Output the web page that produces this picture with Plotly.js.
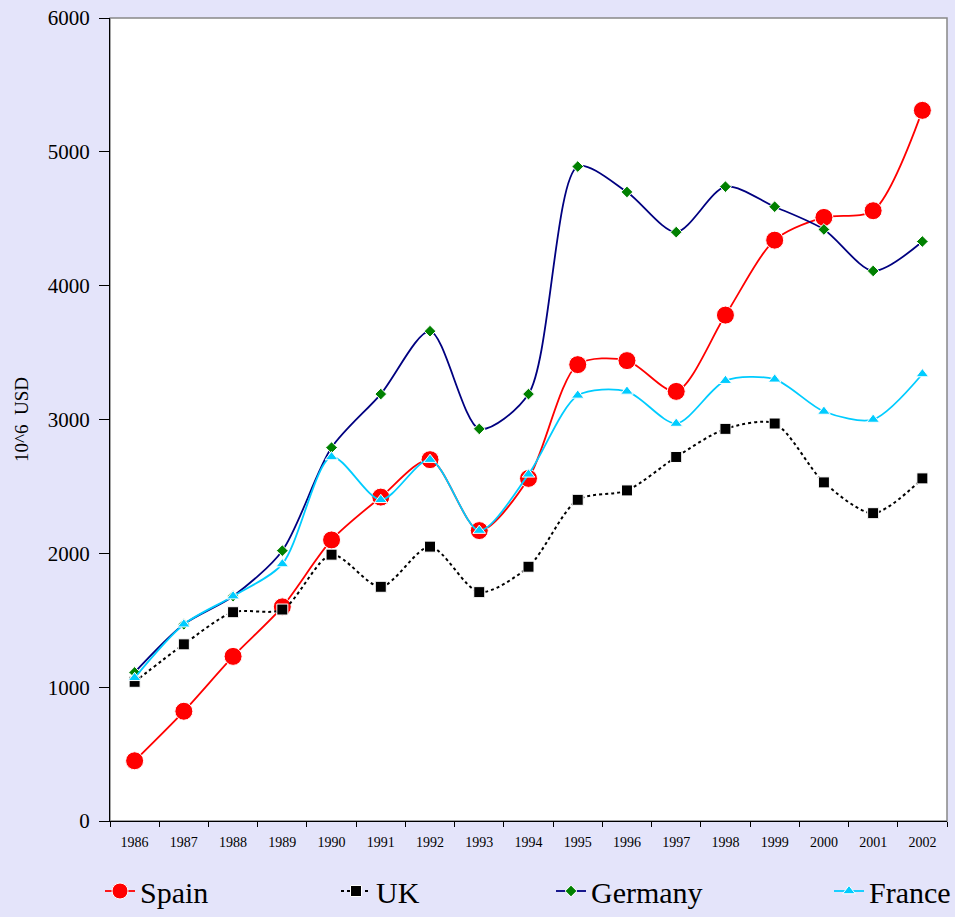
<!DOCTYPE html>
<html>
<head>
<meta charset="utf-8">
<script src="https://cdn.plot.ly/plotly-3.0.1.min.js"></script>
<style>html,body{margin:0;padding:0;background:#E4E4FA;}#chart{width:955px;height:917px;}</style>
</head>
<body>
<div id="chart"></div>
<script>
const years = ['1986','1987','1988','1989','1990','1991','1992','1993','1994','1995','1996','1997','1998','1999','2000','2001','2002'];
const spain   = [450, 820, 1230, 1600, 2100, 2420, 2700, 2170, 2560, 3410, 3440, 3210, 3780, 4340, 4510, 4560, 5310];
const uk      = [1040, 1320, 1560, 1580, 1990, 1750, 2050, 1710, 1900, 2400, 2470, 2720, 2930, 2970, 2530, 2300, 2560];
const germany = [1110, 1470, 1680, 2020, 2790, 3190, 3660, 2930, 3190, 4890, 4700, 4400, 4740, 4590, 4420, 4110, 4330];
const france  = [1070, 1470, 1680, 1920, 2720, 2400, 2700, 2170, 2590, 3180, 3210, 2970, 3290, 3300, 3060, 3000, 3340];
const yTicks = [0, 1000, 2000, 3000, 4000, 5000, 6000];

const serif = '"Liberation Serif", "Times New Roman", serif';
const traces = [
  {name:'Spain', x:years, y:spain, type:'scatter', mode:'lines+markers', legend:'legend',
   line:{color:'#FF0000', width:1.8, shape:'spline', smoothing:0.8},
   marker:{symbol:'circle', size:18, color:'#FF0000', line:{color:'#FFFFFF', width:1}}},
  {name:'UK', x:years, y:uk, type:'scatter', mode:'lines+markers', legend:'legend2',
   line:{color:'#000000', width:2, dash:'dot', shape:'spline', smoothing:0.8},
   marker:{symbol:'square', size:11, color:'#000000', line:{color:'#FFFFFF', width:1}}},
  {name:'Germany', x:years, y:germany, type:'scatter', mode:'lines+markers', legend:'legend3',
   line:{color:'#000080', width:1.8, shape:'spline', smoothing:0.8},
   marker:{symbol:'diamond', size:9, color:'#008000', line:{color:'#FFFFFF', width:1}}},
  {name:'France', x:years, y:france, type:'scatter', mode:'lines+markers', legend:'legend4',
   line:{color:'#00CCFF', width:1.8, shape:'spline', smoothing:0.8},
   marker:{symbol:'triangle-up', size:11, color:'#00CCFF', line:{color:'#FFFFFF', width:1}}}
];

function leg(px){
  return {orientation:'h', xref:'container', yref:'container', x:px/955, y:-0.005, xanchor:'left', yanchor:'bottom',
    font:{size:30, family:serif}, bgcolor:'rgba(0,0,0,0)'};
}

const n = years.length;
const bounds = Array.from({length:n+1}, (_, i) => i - 0.5);

const layout = {
  width:955, height:917,
  paper_bgcolor:'#E4E4FA', plot_bgcolor:'#FFFFFF',
  margin:{l:110, r:8, t:18, b:96},
  font:{family:serif, color:'#000000'},
  showlegend:true,
  legend:leg(100), legend2:leg(336), legend3:leg(551), legend4:leg(829),
  xaxis:{type:'category', range:[-0.5, n - 0.5], tickson:'boundaries', ticks:'outside', ticklen:5, tickcolor:'#000',
    showline:true, linecolor:'#000', linewidth:1, showgrid:false, zeroline:false, ticklabelstandoff:8,
    tickfont:{size:14, family:serif}},
  xaxis2:{overlaying:'x', type:'linear', range:[-0.5, n - 0.5], tickvals:bounds, showticklabels:false,
    ticks:'inside', ticklen:5, tickcolor:'#000', showline:false, showgrid:false, zeroline:false, side:'bottom'},
  yaxis:{range:[0, 6000], tickvals:yTicks, ticks:'outside', ticklen:10, tickcolor:'#000',
    showline:true, linecolor:'#000', linewidth:1, showgrid:false, zeroline:false, ticklabelstandoff:5,
    tickfont:{size:21, family:serif},
    title:{text:'10^6  USD', font:{size:19, family:serif}, standoff:14}},
  yaxis2:{overlaying:'y', range:[0, 6000], tickvals:yTicks, showticklabels:false, ticks:'inside', ticklen:7,
    tickcolor:'#000', showline:false, showgrid:false, zeroline:false, side:'left'},
  shapes:[{type:'rect', xref:'paper', yref:'paper', x0:0, x1:1, y0:0, y1:1, line:{color:'#888888', width:1.5}, layer:'below'}]
};

Plotly.newPlot('chart', traces, layout, {displayModeBar:false, staticPlot:true});
</script>
</body>
</html>
